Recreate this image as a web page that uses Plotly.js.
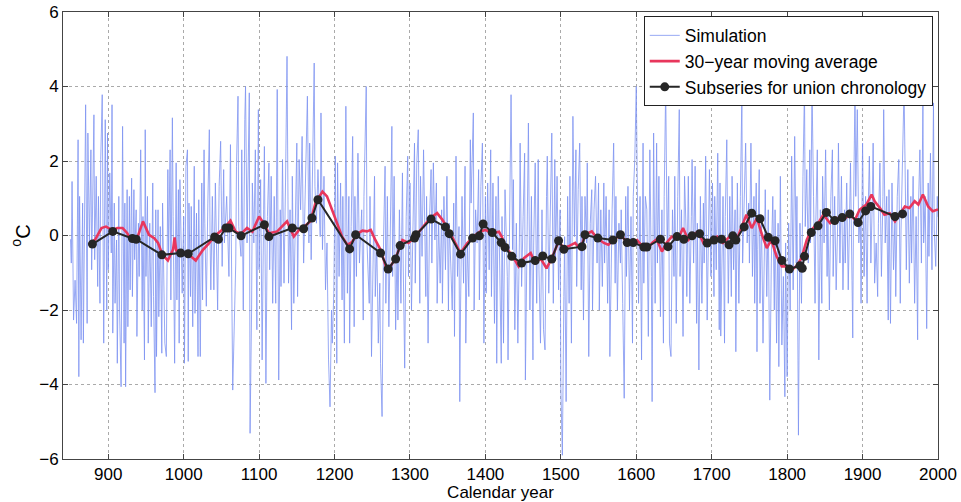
<!DOCTYPE html>
<html>
<head>
<meta charset="utf-8">
<script src="https://cdn.plot.ly/plotly-3.0.1.min.js"></script>
<style>
html,body{margin:0;padding:0;background:#fff;}
#chart{width:961px;height:502px;}
</style>
</head>
<body>
<div id="chart"></div>
<script>
// Simulation (annual values): [year, °C]
const simPairs = [
[850,-0.1],[851,-0.74],[852,1.45],[854,-2.27],[856,-1.2],[858,-2.36],[860,2.57],[861,-3.79],[862,1.05],[864,-2.8],[866,0.87],[867,-2.89],[869,1.41],[870,3.51],[872,-2.36],[873,2.75],[875,-0.2],[877,2.3],[878,-0.92],[881,3.24],[882,-0.65],[884,1.59],[886,-1.37],[887,1.05],[889,-1.82],[890,2.04],[892,3.78],[893,-0.92],[894,-2.89],[896,3.11],[898,-2.0],[899,2.75],[900,-0.92],[902,1.68],[904,-0.47],[905,3.51],[906,-2.62],[908,0.87],[909,-1.82],[911,-0.12],[912,-3.43],[914,1.05],[915,-2.0],[917,-4.06],[918,1.77],[919,2.93],[921,-2.89],[922,0.87],[923,-4.06],[925,1.23],[926,-2.45],[928,1.05],[929,-1.46],[931,1.54],[932,-1.64],[934,1.23],[935,-0.65],[937,0.69],[938,-2.71],[940,0.33],[941,-1.1],[943,2.3],[945,-2.0],[946,0.51],[948,-3.34],[949,2.84],[950,-1.1],[952,1.05],[953,-2.89],[955,0.33],[957,-2.45],[959,1.41],[960,-1.64],[962,-4.22],[963,0.69],[964,-3.25],[966,0.69],[967,-2.18],[969,0.24],[971,-3.16],[972,0.87],[974,-2.0],[975,-2.89],[977,-3.25],[979,1.77],[980,-0.56],[982,2.3],[983,-1.73],[985,3.16],[986,0.51],[988,-3.43],[990,1.95],[991,-1.73],[993,1.23],[994,-2.89],[995,1.5],[997,-0.74],[998,-1.55],[1000,0.51],[1001,-3.43],[1003,1.86],[1005,2.3],[1006,-3.38],[1007,0.87],[1009,-1.64],[1010,0.78],[1012,-2.45],[1014,1.86],[1015,-2.09],[1017,0.6],[1019,-3.25],[1020,0.96],[1022,-3.25],[1024,1.41],[1025,-1.73],[1027,2.3],[1028,0.33],[1030,-1.9],[1032,0.87],[1034,2.84],[1035,-0.2],[1036,-1.46],[1038,1.05],
[1040,-1.46],[1042,1.41],[1045,-2.0],[1047,1.32],[1049,2.53],[1051,-0.83],[1053,1.77],[1054,-0.2],[1057,1.05],[1060,-1.1],[1062,2.44],[1065,-4.15],[1067,-2.27],[1069,-0.74],[1070,1.86],[1072,3.74],[1073,0.24],[1076,-0.56],[1077,2.3],[1079,-2.0],[1081,3.11],[1082,4.0],[1084,-0.2],[1085,0.87],[1087,3.83],[1088,-5.31],[1090,-2.0],[1091,1.41],[1093,-0.2],[1095,2.3],[1097,-2.53],[1099,3.38],[1100,-0.92],[1102,1.5],[1104,-3.34],[1106,0.69],[1107,2.39],[1109,-3.97],[1111,0.51],[1113,1.95],[1114,-0.92],[1116,1.59],[1118,-1.82],[1120,1.05],[1122,-1.82],[1124,3.92],[1126,-3.88],[1128,0.69],[1129,-1.37],[1131,2.04],[1133,-1.28],[1135,1.41],[1137,4.81],[1139,-1.28],[1141,0.69],[1143,-2.53],[1144,1.59],[1146,-1.82],[1148,0.51],[1150,2.48],[1151,-1.64],[1153,2.04],[1155,0.69],[1157,2.66],[1159,-0.74],[1162,2.21],[1164,3.74],[1166,-0.2],[1167,2.48],[1169,-0.65],[1171,1.95],[1173,4.63],[1174,1.32],[1176,0.33],[1178,1.77],[1181,-0.03],[1182,3.29],[1184,-0.38],[1186,1.59],[1188,-1.46],[1190,-0.2],[1192,-3.34],[1194,-4.6],[1196,-2.0],[1197,-2.89],[1199,-1.55],[1201,2.13],[1203,-3.43],[1204,1.95],[1206,-1.1],[1208,1.41],[1210,-1.73],[1211,1.05],[1213,-2.89],[1215,3.47],[1217,-1.55],[1219,1.05],[1220,-2.89],[1222,0.24],[1224,2.66],[1226,-2.45],[1227,1.05],[1229,-1.1],
[1231,2.21],[1233,-0.74],[1236,0.69],[1238,-2.27],[1239,1.05],[1242,4.0],[1243,-0.2],[1246,-1.82],[1247,1.05],[1249,-3.25],[1251,-0.38],[1253,1.59],[1254,-1.64],[1256,-0.2],[1258,-2.89],[1260,-1.28],[1261,-3.43],[1263,-4.86],[1265,-0.03],[1267,1.86],[1268,-1.82],[1270,1.05],[1272,-2.45],[1274,-0.03],[1276,2.93],[1277,-1.1],[1279,1.59],[1281,-2.53],[1283,-0.2],[1284,-2.27],[1286,0.69],[1288,-1.82],[1290,1.68],[1291,-0.74],[1293,-3.56],[1295,0.51],[1297,2.13],[1298,-1.1],[1300,1.41],[1302,-2.0],[1304,0.69],[1306,2.48],[1307,-1.28],[1309,1.95],[1311,2.84],[1313,-1.82],[1314,1.59],[1316,-0.56],[1318,2.3],[1321,-1.64],[1322,1.05],[1324,-2.89],[1326,0.51],[1328,1.77],[1329,-0.74],[1331,1.95],[1333,-0.12],[1335,1.41],[1336,-1.82],[1338,0.33],[1340,-1.28],[1342,0.69],[1343,-1.82],[1345,1.05],[1347,-0.92],[1349,1.59],[1351,-2.0],[1352,0.33],[1354,-0.74],[1356,-2.0],[1358,0.87],[1359,-2.71],[1361,2.13],[1363,-1.1],[1365,0.24],[1366,-4.46],[1367,-2.0],[1369,1.05],[1371,-1.28],[1373,1.86],[1374,-2.89],[1376,-0.2],[1378,-1.64],[1380,2.57],[1381,0.87],[1384,3.29],[1385,-2.0],[1387,0.69],[1389,-0.2],[1391,1.77],[1392,-1.73],[1394,1.32],[1396,2.48],[1398,-2.89],[1400,1.05],[1401,-1.55],[1403,1.41],[1405,-0.92],[1407,2.3],[1408,-1.64],[1410,1.41],[1412,-2.36],[1414,1.05],[1415,-3.43],[1417,1.59],[1419,-1.1],[1421,-3.43],
[1422,0.51],[1424,-2.89],[1426,1.23],[1429,-1.1],[1430,-3.34],[1432,0.69],[1434,3.78],[1436,-0.38],[1437,1.5],[1439,-2.53],[1441,0.33],[1443,-2.89],[1445,-0.2],[1446,2.48],[1448,-1.37],[1450,0.51],[1452,2.21],[1453,-3.88],[1455,-0.2],[1457,3.02],[1459,-2.0],[1461,1.05],[1463,-3.34],[1464,-0.2],[1466,1.95],[1468,-1.82],[1470,2.04],[1471,-0.92],[1473,-2.89],[1475,0.69],[1477,-2.53],[1479,-3.07],[1481,1.05],[1482,2.13],[1484,-1.55],[1486,0.69],[1488,2.75],[1490,-1.82],[1492,2.04],[1493,-0.65],[1495,1.59],[1497,-1.46],[1499,0.69],[1500,-4.06],[1502,-5.9],[1504,-1.64],[1505,-0.03],[1507,-4.46],[1509,1.05],[1511,-1.82],[1512,1.59],[1514,-2.89],[1516,3.2],[1518,-0.03],[1520,2.3],[1521,-1.37],[1523,1.23],[1525,2.48],[1527,-1.46],[1528,1.05],[1530,-2.27],[1532,1.05],[1534,-0.2],[1535,1.95],[1537,-3.25],[1539,0.33],[1541,1.23],[1542,-2.0],[1544,0.69],[1546,1.59],[1548,-0.74],[1550,1.41],[1551,-2.0],[1553,0.69],[1555,-1.37],[1557,1.41],[1558,-0.74],[1560,1.05],[1562,-1.82],[1564,0.69],[1565,-3.25],[1568,0.69],[1570,2.48],[1572,-1.28],[1573,1.05],[1575,-2.0],[1577,0.33],[1579,-0.74],[1580,0.69],[1582,-1.82],[1584,-4.37],[1586,1.05],[1587,-1.1],[1589,1.32],[1591,-2.0],[1593,0.51],[1595,-2.89],[1596,1.05],[1598,2.04],[1600,4.0],[1602,-0.2],[1603,-1.82],[1605,1.05],[1607,-3.34],[1609,2.48],[1610,-1.28],[1612,1.05],
[1614,0.69],[1616,-2.71],[1618,2.3],[1620,-1.1],[1621,-4.46],[1623,2.75],[1625,-1.82],[1627,2.48],[1628,-0.74],[1630,1.59],[1632,-2.18],[1634,0.69],[1636,-2.89],[1637,1.05],[1639,4.0],[1641,-0.38],[1643,1.59],[1644,-2.89],[1646,-3.25],[1648,0.69],[1650,-1.1],[1651,1.59],[1653,-2.36],[1655,1.05],[1657,3.38],[1658,-1.1],[1660,0.69],[1662,-2.71],[1664,1.59],[1666,0.15],[1667,-1.64],[1669,1.59],[1671,-1.82],[1673,0.51],[1674,2.04],[1676,-0.74],[1678,1.86],[1680,-2.36],[1681,0.33],[1683,-3.61],[1685,1.05],[1687,-1.82],[1689,0.87],[1690,-0.74],[1692,2.13],[1694,-2.27],[1696,0.51],[1697,1.77],[1699,-1.1],[1701,1.41],[1703,-1.64],[1704,1.05],[1706,-0.92],[1708,2.21],[1710,-2.53],[1711,1.41],[1712,-2.7],[1713,-1.1],[1715,1.05],[1717,-2.89],[1718,0.51],[1720,2.57],[1722,-1.82],[1724,1.05],[1726,-1.64],[1727,1.59],[1729,-0.92],[1731,0.69],[1732,-3.12],[1734,1.41],[1736,-1.82],[1738,1.05],[1740,3.74],[1741,-0.74],[1743,1.05],[1745,2.48],[1747,-0.2],[1749,0.87],[1750,-0.74],[1752,2.48],[1754,-1.1],[1756,1.05],[1757,-1.82],[1759,1.41],[1760,-3.12],[1761,-0.38],[1763,1.77],[1764,-1.82],[1766,0.51],[1768,-2.89],[1770,-0.2],[1771,1.23],[1773,-1.64],[1775,0.69],[1777,-4.42],[1779,-0.74],[1781,1.05],[1783,-2.0],[1784,0.69],[1786,-2.89],[1788,0.33],[1789,-3.52],[1791,1.59],[1793,-2.94],[1795,-1.1],[1797,-4.33],[1798,-0.2],[1800,-3.79],[1802,0.33],[1804,-2.0],
[1806,2.13],[1808,-1.46],[1810,2.66],[1812,-0.74],[1813,1.05],[1815,-5.36],[1817,0.33],[1819,-1.82],[1821,1.59],[1823,3.98],[1824,0.24],[1826,1.77],[1828,-0.74],[1830,2.3],[1831,-0.2],[1833,3.98],[1835,1.05],[1837,-1.82],[1838,0.33],[1840,2.3],[1842,-3.34],[1844,0.69],[1846,-1.82],[1847,1.59],[1849,-0.2],[1851,2.3],[1853,-1.1],[1854,0.69],[1856,-2.0],[1858,1.05],[1860,2.3],[1861,-1.1],[1863,1.05],[1865,-1.46],[1867,0.33],[1868,2.48],[1870,-0.74],[1872,1.59],[1874,-1.46],[1876,0.69],[1877,-0.74],[1879,1.41],[1881,-1.46],[1883,0.33],[1884,1.95],[1886,-1.2],[1887,-2.75],[1888,0.69],[1890,3.98],[1891,1.05],[1893,3.38],[1895,-0.2],[1897,0.69],[1898,-1.82],[1900,2.48],[1902,-1.1],[1904,1.05],[1906,-1.82],[1907,0.33],[1909,2.13],[1911,-0.74],[1913,1.05],[1914,2.48],[1916,-1.28],[1918,-0.2],[1920,-1.64],[1921,0.33],[1923,1.95],[1925,-1.1],[1927,1.05],[1928,3.38],[1930,-0.2],[1932,1.05],[1934,-2.27],[1935,1.23],[1937,-2.36],[1939,1.41],[1941,-0.92],[1943,0.51],[1944,-1.64],[1946,1.05],[1948,2.04],[1950,-1.82],[1951,0.15],[1953,2.48],[1955,3.98],[1957,0.87],[1958,-0.92],[1960,1.77],[1962,-1.28],[1964,1.05],[1965,-0.74],[1967,1.59],[1969,-1.82],[1971,0.51],[1973,-2.8],[1974,0.69],[1976,2.3],[1978,-0.74],[1980,3.6],[1981,-0.2],[1983,1.05],[1985,-2.5],[1987,1.41],[1988,-0.56],[1990,2.21],[1992,-0.92],[1994,3.56],[1995,0.15],[1997,-0.83],[1999,1.05],[2000,0.5]
];

// 30-year moving average
const maYears = [877,883,891,897,906,912,919,925,930,939,946,954,961,966,972,979,986,988,990,998,1009,1016,1025,1034,1040,1054,1062,1069,1076,1084,1091,1100,1106,1113,1124,1137,1146,1153,1160,1168,1175,1184,1190,1197,1204,1210,1217,1223,1230,1237,1243,1248,1254,1261,1268,1274,1281,1290,1298,1307,1316,1327,1336,1343,1351,1360,1367,1376,1384,1393,1400,1409,1418,1422,1426,1435,1444,1451,1460,1466,1473,1481,1488,1497,1504,1510,1519,1526,1532,1541,1548,1557,1563,1570,1579,1585,1592,1601,1609,1614,1621,1627,1634,1640,1647,1656,1662,1669,1676,1682,1689,1698,1707,1715,1724,1733,1740,1746,1753,1760,1766,1773,1779,1786,1793,1800,1806,1812,1819,1826,1832,1841,1848,1857,1865,1874,1883,1890,1896,1905,1912,1916,1923,1929,1936,1943,1949,1956,1962,1969,1974,1980,1987,1993,2000];
const maValues = [-0.2,-0.1,0.2,0.24,0.14,0.2,0.2,0.07,-0.12,-0.03,0.38,0.02,-0.07,-0.2,-0.52,-0.67,-0.37,-0.05,-0.4,-0.43,-0.55,-0.67,-0.4,-0.2,-0.03,0.2,0.4,0.1,0.04,0.2,0.1,0.51,0.33,0.06,0.11,0.38,-0.03,0.15,0.24,0.38,0.89,1.18,1.05,0.69,0.33,-0.03,-0.25,-0.18,0.04,0.13,0.11,0.15,-0.12,-0.38,-0.83,-0.83,-0.61,-0.12,-0.2,-0.03,0.2,0.47,0.6,0.42,0.15,-0.2,-0.47,-0.2,-0.03,0.11,0.15,0.06,0.1,-0.05,-0.29,-0.52,-0.83,-0.61,-0.47,-0.74,-0.61,-0.88,-0.61,-0.16,-0.34,-0.29,-0.2,-0.38,0.02,0.11,-0.07,-0.2,-0.25,-0.12,0.02,-0.12,-0.2,-0.12,-0.31,-0.38,-0.2,-0.1,-0.43,-0.2,-0.03,-0.07,0.2,-0.12,0.02,0.11,-0.2,-0.12,-0.03,-0.2,-0.03,-0.12,0.24,0.56,0.2,0.47,0.06,-0.34,-0.12,-0.56,-0.83,-0.83,-0.92,-0.83,-0.61,-0.12,0.15,0.33,0.56,0.33,0.47,0.42,0.56,0.42,0.69,0.83,1.1,0.92,0.74,0.56,0.6,0.38,0.56,0.78,0.74,0.92,0.83,1.1,0.78,0.65,0.7];

// Subseries for union chronology
const subYears = [879,906,932,937,971,996,1006,1041,1046,1056,1060,1076,1107,1113,1144,1159,1170,1178,1220,1228,1261,1271,1281,1287,1306,1308,1328,1347,1352,1367,1383,1392,1397,1409,1421,1426,1435,1448,1466,1476,1488,1497,1504,1528,1532,1549,1569,1579,1588,1596,1610,1614,1632,1642,1654,1663,1674,1684,1694,1703,1713,1723,1728,1732,1743,1753,1764,1775,1784,1793,1803,1817,1820,1823,1832,1841,1852,1863,1873,1883,1894,1904,1911,1943,1953];
const subValues = [-0.23,0.11,-0.08,-0.1,-0.52,-0.47,-0.49,-0.04,-0.1,0.2,0.2,-0.01,0.29,-0.03,0.2,0.18,0.47,0.96,-0.36,0.02,-0.47,-0.9,-0.63,-0.27,-0.07,0.02,0.44,0.23,0.05,-0.5,-0.07,-0.01,0.31,0.08,-0.19,-0.32,-0.56,-0.74,-0.67,-0.55,-0.63,-0.14,-0.37,-0.3,0.02,-0.07,-0.12,0.02,-0.19,-0.19,-0.31,-0.31,-0.1,-0.3,-0.03,-0.1,-0.01,0.05,-0.2,-0.12,-0.1,-0.25,-0.01,-0.12,0.23,0.6,0.45,-0.05,-0.14,-0.67,-0.9,-0.81,-0.88,-0.56,0.08,0.26,0.62,0.4,0.48,0.58,0.35,0.66,0.78,0.51,0.58];

const xTicks = [900,1000,1100,1200,1300,1400,1500,1600,1700,1800,1900,2000];
const yTicks = [-6,-4,-2,0,2,4,6];

const FONT = '"Liberation Sans", Arial, Helvetica, sans-serif';

const traces = [
  {x: simPairs.map(p=>p[0]), y: simPairs.map(p=>p[1]), type:'scatter', mode:'lines',
   name:'Simulation', line:{color:'#7d93f1', width:0.8}},
  {x: maYears, y: maValues, type:'scatter', mode:'lines',
   name:'30\u2212year moving average', line:{color:'#e8365c', width:2.6}},
  {x: subYears, y: subValues, type:'scatter', mode:'lines+markers',
   name:'Subseries for union chronology', line:{color:'#262626', width:2},
   marker:{color:'#262626', size:9}}
];

const axisCommon = {
  showline:true, linecolor:'#444', linewidth:1, mirror:'ticks',
  ticks:'inside', ticklen:5, tickcolor:'#444',
  showgrid:true, gridcolor:'#aaa', griddash:'dot', gridwidth:1,
  zeroline:false, tickfont:{family:FONT, size:17, color:'#000'}
};

const layout = {
  width:961, height:502,
  margin:{l:63, r:23, t:12, b:43},
  paper_bgcolor:'#fff', plot_bgcolor:'#fff',
  font:{family:FONT, size:18, color:'#000'},
  showlegend:true,
  xaxis: Object.assign({}, axisCommon, {
    range:[840,2000], tickvals:xTicks, ticktext:xTicks.map(String),
    title:{text:'Calendar year', font:{family:FONT, size:17}, standoff:5}
  }),
  yaxis: Object.assign({}, axisCommon, {
    range:[-6,6], tickvals:yTicks,
    title:{text:'<sup>o</sup>C', font:{family:FONT, size:20}, standoff:3}
  }),
  legend:{x:0.994, y:0.99, xanchor:'right', yanchor:'top',
    bgcolor:'#fff', bordercolor:'#222', borderwidth:1,
    font:{family:FONT, size:17.5, color:'#000'}, tracegroupgap:0}
};

Plotly.newPlot('chart', traces, layout, {displayModeBar:false, staticPlot:true});
</script>
</body>
</html>
